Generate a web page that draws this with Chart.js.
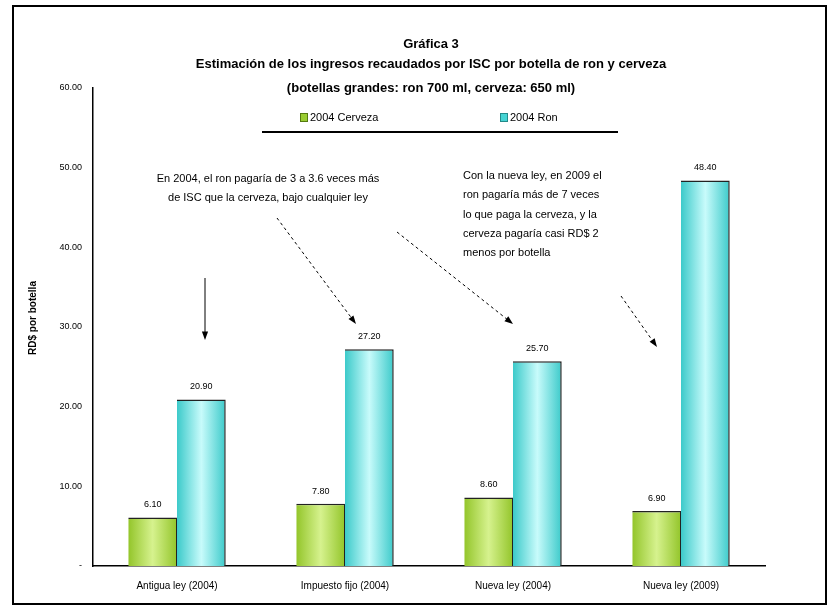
<!DOCTYPE html>
<html>
<head>
<meta charset="utf-8">
<script src="https://cdn.jsdelivr.net/npm/chart.js@4/dist/chart.umd.min.js"></script>
<style>
  html, body { margin: 0; padding: 0; background: #fff; }
  #wrap { width: 837px; height: 605px; position: relative; }
</style>
</head>
<body>
<div id="wrap"><canvas id="myChart" width="837" height="605"></canvas></div>
<script>
// data
const categories = ['Antigua ley (2004)', 'Impuesto fijo (2004)', 'Nueva ley (2004)', 'Nueva ley (2009)']
const cerveza = [6.1, 7.8, 8.6, 6.9]
const ron = [20.9, 27.2, 25.7, 48.4]
const seriesNames = ['2004 Cerveza', '2004 Ron']
const yTicks = [0, 10, 20, 30, 40, 50, 60]

const titleLines = [
  'Gráfica 3',
  'Estimación de los ingresos recaudados por ISC por botella de ron y cerveza',
  '(botellas grandes: ron 700 ml, cerveza: 650 ml)',
]
const note1 = ['En 2004, el ron pagaría de 3 a 3.6 veces más', 'de ISC que la cerveza, bajo cualquier ley']
const note2 = [
  'Con la nueva ley, en 2009 el',
  'ron pagaría más de 7 veces',
  'lo que paga la cerveza, y la',
  'cerveza pagaría casi RD$ 2',
  'menos por botella',
]

const FONT = '"Liberation Sans", Arial, sans-serif'

// gradient stops per series: edge colour, centre colour
const fills = [
  ['#93c52a', '#d6f28e'],
  ['#3ccaca', '#c8fbfb'],
]

function fmt(v) {
  return v === 0 ? '-' : v.toFixed(2)
}

function arrow(ctx, x1, y1, x2, y2, dashed) {
  ctx.save()
  ctx.strokeStyle = '#000'
  ctx.fillStyle = '#000'
  ctx.lineWidth = 1
  if (dashed) ctx.setLineDash([3, 3])
  const a = Math.atan2(y2 - y1, x2 - x1)
  const hl = 9
  ctx.beginPath()
  ctx.moveTo(x1, y1)
  ctx.lineTo(x2 - Math.cos(a) * hl * 0.8, y2 - Math.sin(a) * hl * 0.8)
  ctx.stroke()
  ctx.setLineDash([])
  ctx.beginPath()
  ctx.moveTo(x2, y2)
  ctx.lineTo(x2 - hl * Math.cos(a - 0.35), y2 - hl * Math.sin(a - 0.35))
  ctx.lineTo(x2 - hl * Math.cos(a + 0.35), y2 - hl * Math.sin(a + 0.35))
  ctx.closePath()
  ctx.fill()
  ctx.restore()
}

// give every bar a horizontal gradient based on its own position
const gradientPlugin = {
  id: 'barGradient',
  beforeDatasetsDraw(chart) {
    const ctx = chart.ctx
    chart.data.datasets.forEach((ds, di) => {
      const meta = chart.getDatasetMeta(di)
      meta.data.forEach(bar => {
        const half = bar.width / 2
        const g = ctx.createLinearGradient(bar.x - half, 0, bar.x + half, 0)
        g.addColorStop(0, fills[di][0])
        g.addColorStop(0.5, fills[di][1])
        g.addColorStop(1, fills[di][0])
        // options objects can be shared between bars, so give each its own copy
        bar.options = Object.assign({}, bar.options, { backgroundColor: g })
      })
    })
  },
}

const decorPlugin = {
  id: 'decor',
  afterDraw(chart) {
    const ctx = chart.ctx
    ctx.save()

    // frame
    ctx.strokeStyle = '#000'
    ctx.lineWidth = 2
    ctx.strokeRect(13, 6, 813, 598)

    // titles
    ctx.fillStyle = '#000'
    ctx.textAlign = 'center'
    ctx.textBaseline = 'middle'
    ctx.font = 'bold 13px ' + FONT
    ctx.fillText(titleLines[0], 431, 44)
    ctx.fillText(titleLines[1], 431, 64)
    ctx.fillText(titleLines[2], 431, 88)

    // legend
    ctx.font = '11px ' + FONT
    ctx.textAlign = 'left'
    const legendItems = [
      { x: 300, color: '#9acd32', border: '#557a10' },
      { x: 500, color: '#45d3d3', border: '#238a8a' },
    ]
    legendItems.forEach((it, i) => {
      ctx.fillStyle = it.color
      ctx.fillRect(it.x, 113, 7, 8)
      ctx.strokeStyle = it.border
      ctx.lineWidth = 1
      ctx.strokeRect(it.x + 0.5, 113.5, 7, 8)
      ctx.fillStyle = '#000'
      ctx.fillText(seriesNames[i], it.x + 10, 118)
    })
    ctx.strokeStyle = '#000'
    ctx.lineWidth = 2
    ctx.beginPath()
    ctx.moveTo(262, 132)
    ctx.lineTo(618, 132)
    ctx.stroke()

    // value labels above bars
    ctx.font = '9px ' + FONT
    ctx.textAlign = 'center'
    ctx.textBaseline = 'bottom'
    ctx.fillStyle = '#000'
    chart.data.datasets.forEach((ds, di) => {
      const meta = chart.getDatasetMeta(di)
      meta.data.forEach((bar, i) => {
        ctx.fillText(fmt(ds.data[i]), bar.x, bar.y - 8)
      })
    })

    // y axis title
    ctx.save()
    ctx.translate(33, 318)
    ctx.rotate(-Math.PI / 2)
    ctx.font = 'bold 10px ' + FONT
    ctx.textBaseline = 'middle'
    ctx.fillText('RD$ por botella', 0, 0)
    ctx.restore()

    // annotations
    ctx.font = '11px ' + FONT
    ctx.textBaseline = 'middle'
    ctx.textAlign = 'center'
    note1.forEach((t, i) => ctx.fillText(t, 268, 179 + i * 19))
    ctx.textAlign = 'left'
    note2.forEach((t, i) => ctx.fillText(t, 463, 176 + i * 19.3))

    arrow(ctx, 205, 278, 205, 340, false)
    arrow(ctx, 277, 218, 356, 324, true)
    arrow(ctx, 397, 232, 513, 324, true)
    arrow(ctx, 621, 296, 657, 347, true)

    ctx.restore()
  },
}

const ctx = document.getElementById('myChart').getContext('2d')
new Chart(ctx, {
  type: 'bar',
  data: {
    labels: categories,
    datasets: [
      {
        label: seriesNames[0],
        data: cerveza,
        backgroundColor: fills[0][0],
        borderColor: '#222',
        borderWidth: { top: 1.5, right: 1, left: 0, bottom: 0 },
        borderSkipped: 'bottom',
      },
      {
        label: seriesNames[1],
        data: ron,
        backgroundColor: fills[1][0],
        borderColor: '#222',
        borderWidth: { top: 1.5, right: 1.5, left: 0, bottom: 0 },
        borderSkipped: 'bottom',
      },
    ],
  },
  options: {
    responsive: false,
    animation: false,
    layout: { padding: { top: 88, right: 72, left: 0, bottom: 0 } },
    plugins: {
      legend: { display: false },
      tooltip: { enabled: false },
      title: { display: false },
    },
    datasets: {
      bar: { categoryPercentage: 0.58, barPercentage: 1.0 },
    },
    scales: {
      x: {
        grid: { display: false, drawTicks: false },
        border: { color: '#000', width: 1.5 },
        ticks: {
          color: '#000',
          font: { family: FONT, size: 10 },
          padding: 14,
          maxRotation: 0,
        },
        afterFit(scale) {
          scale.height = 39
        },
      },
      y: {
        min: 0,
        max: 60,
        afterBuildTicks(scale) {
          scale.ticks = yTicks.map(v => ({ value: v }))
        },
        grid: { display: false, drawTicks: true, tickLength: 3, tickColor: '#000' },
        border: { color: '#000', width: 1.5 },
        ticks: {
          color: '#000',
          font: { family: FONT, size: 9 },
          padding: 8,
          callback: v => fmt(v),
        },
        afterFit(scale) {
          scale.width = 93
        },
      },
    },
  },
  plugins: [gradientPlugin, decorPlugin],
})
</script>
</body>
</html>
